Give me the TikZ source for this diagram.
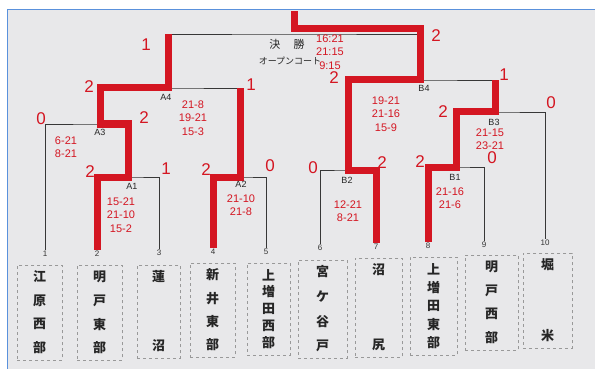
\documentclass[tikz,border=0pt]{standalone}
\usepackage{fontspec}
\setmainfont{Liberation Sans}
\newfontfamily\cjk{Noto Sans CJK JP}
\usetikzlibrary{calc}
\definecolor{bg}{RGB}{232,232,234}
\definecolor{ink}{RGB}{212,22,34}
\definecolor{frameblue}{RGB}{90,145,220}
\definecolor{pen}{RGB}{55,55,55}
\newcommand\tbox[7]{%
  \pgfmathsetmacro\bw{#4-#2}\pgfmathsetmacro\bh{#5-#3}%
  \node[teamframe,minimum width=\bw pt,minimum height=\bh pt,anchor=north west] (#1) at (#2,#3) {};
  \foreach \c [count=\i] in {#7} {%
    \pgfmathsetmacro\yy{#3+12+(\i-1)*(\bh-24)/(#6-1)}%
    \node[tchar] (#1c\i) at ({(#2+#4)/2},\yy) {\c};
  }%
}
\begin{document}
\begin{tikzpicture}[x=1pt,y=-1pt,
  bline/.style={draw=pen,line width=0.8pt},
  rline/.style={draw=ink,line width=7pt,line join=miter,line cap=butt},
  teamframe/.style={draw=gray!80,dashed,line width=0.7pt,inner sep=0pt},
  tchar/.style={font=\cjk\bfseries\fontsize{13}{13}\selectfont,text=black!85,inner sep=0pt},
  score/.style={text=ink,font=\fontsize{11}{13.5}\selectfont,align=center,inner sep=0pt},
  big/.style={text=ink,font=\fontsize{17}{17}\selectfont,inner sep=0pt},
  mlabel/.style={font=\fontsize{9}{9}\selectfont,text=black!85,inner sep=0pt},
  num/.style={font=\fontsize{8}{8}\selectfont,text=black!80,inner sep=1pt},
  jp/.style={font=\cjk\fontsize{#1}{#1}\selectfont,text=black!85,inner sep=0pt}
]
\useasboundingbox (0,0) rectangle (595,369);
\fill[white] (0,0) rectangle (595,10);
\fill[bg] (7,10) rectangle (595,369);
\draw[frameblue,line width=1pt] (7,369) -- (7,10) -- (595,10);

% team number labels
\node[num] (n1) at (45,254) {1};
\node[num] (n2) at (97,254) {2};
\node[num] (n3) at (159,253) {3};
\node[num] (n4) at (213,252) {4};
\node[num] (n5) at (266,252) {5};
\node[num] (n6) at (320,248) {6};
\node[num] (n7) at (376,247) {7};
\node[num] (n8) at (428,246) {8};
\node[num] (n9) at (484,245) {9};
\node[num] (n10) at (545,243) {10};

% team boxes
\tbox{t1}{17}{265}{62}{360}{4}{江,原,西,部}
\tbox{t2}{77}{265}{122}{360}{4}{明,戸,東,部}
\tbox{t3}{137}{265}{180}{358}{2}{蓮,沼}
\tbox{t4}{190}{263}{235}{357}{4}{新,井,東,部}
\tbox{t5}{247}{263}{290}{355}{5}{上,増,田,西,部}
\tbox{t6}{298}{260}{347}{358}{4}{宮,ケ,谷,戸}
\tbox{t7}{355}{258}{402}{357}{2}{沼,尻}
\tbox{t8}{410}{257}{457}{355}{5}{上,増,田,東,部}
\tbox{t9}{465}{255}{518}{350}{4}{明,戸,西,部}
\tbox{t10}{523}{253}{572}{348}{2}{堀,米}

% match points
\coordinate (mA1) at (128,177);
\coordinate (mA2) at (240,177);
\coordinate (mA3) at (100,124);
\coordinate (mA4) at (168,88);
\coordinate (mB1) at (456,167);
\coordinate (mB2) at (348,170);
\coordinate (mB3) at (495,112);
\coordinate (mB4) at (420,80);
\coordinate (mF) at (294,34);
\coordinate (champ) at (294,11);

% black bracket
\draw[bline] (n2.north) |- (mA1) -| (n3.north);
\draw[bline] (n4.north) |- (mA2) -| (n5.north);
\draw[bline] (n1.north) |- (mA3) -| (mA1);
\draw[bline] (mA3) |- (mA4) -| (mA2);
\draw[bline] (n6.north) |- (mB2) -| (n7.north);
\draw[bline] (n8.north) |- (mB1) -| (n9.north);
\draw[bline] (mB1) |- (mB3) -| (n10.north);
\draw[bline] (mB2) |- (mB4) -| (mB3);
\draw[bline] (mA4) |- (mF) -| (mB4);

% red winner paths
\draw[rline] (n2.north) |- (mA1) -- (mA1 |- mA3) -- (mA3) -- (mA3 |- mA4) -- (mA4) -- (mA4 |- mF);
\draw[rline] (n4.north) |- (mA2) -- (mA2 |- mA4);
\draw[rline] (n7.north) |- (mB2) -- (mB2 |- mB4) -- (mB4) -- ($(mB4 |- mF)+(0,-5)$) -- ($(mF)+(0,-5)$) -- (champ);
\draw[rline] (n8.north) |- (mB1) -- (mB1 |- mB3) -- (mB3) -- (mB3 |- mB4);

% final titles
\node[jp=11] (kessho) at (287,44) {決\hspace{1.2em}勝};
\node[jp=9] (open) at (290,61) {オープンコート};

% match labels
\node[mlabel] (lA1) at (132,186) {A1};
\node[mlabel] (lA2) at (241,184) {A2};
\node[mlabel] (lA3) at (100,132) {A3};
\node[mlabel] (lA4) at (166,97) {A4};
\node[mlabel] (lB1) at (455,177) {B1};
\node[mlabel] (lB2) at (347,180) {B2};
\node[mlabel] (lB3) at (494,122) {B3};
\node[mlabel] (lB4) at (424,88) {B4};

% game scores
\node[score] (sF) at (330,52) {16:21\\21:15\\9:15};
\node[score] (sA4) at (193,118) {21-8\\19-21\\15-3};
\node[score] (sA3) at (66,147) {6-21\\8-21};
\node[score] (sA1) at (121,215) {15-21\\21-10\\15-2};
\node[score] (sA2) at (241,205) {21-10\\21-8};
\node[score] (sB4) at (386,114) {19-21\\21-16\\15-9};
\node[score] (sB3) at (490,139) {21-15\\23-21};
\node[score] (sB2) at (348,211) {12-21\\8-21};
\node[score] (sB1) at (450,198) {21-16\\21-6};

% set counts
\node[big] (gF1) at (146,45) {1};
\node[big] (gF2) at (436,36) {2};
\node[big] (gA4l) at (89,87) {2};
\node[big] (gA4r) at (251,85) {1};
\node[big] (gA3l) at (41,119) {0};
\node[big] (gA3r) at (144,118) {2};
\node[big] (gA1l) at (90,172) {2};
\node[big] (gA1r) at (166,169) {1};
\node[big] (gA2l) at (206,170) {2};
\node[big] (gA2r) at (270,166) {0};
\node[big] (gB4l) at (334,78) {2};
\node[big] (gB4r) at (504,75) {1};
\node[big] (gB3l) at (443,112) {2};
\node[big] (gB3r) at (551,103) {0};
\node[big] (gB2l) at (313,168) {0};
\node[big] (gB2r) at (382,163) {2};
\node[big] (gB1l) at (420,162) {2};
\node[big] (gB1r) at (492,158) {0};
\end{tikzpicture}
\end{document}
